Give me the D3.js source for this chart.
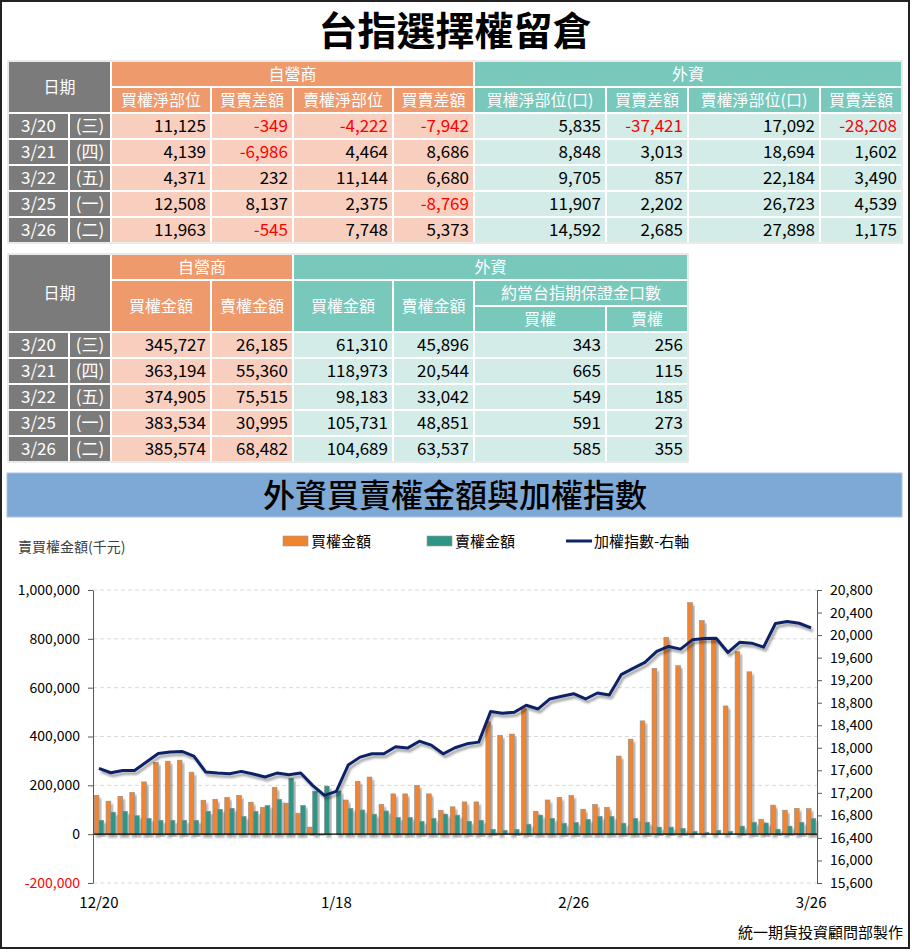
<!DOCTYPE html>
<html>
<head>
<meta charset="utf-8">
<script src="https://cdn.jsdelivr.net/npm/d3@7"></script>
<style>
  body { margin: 0; background: #fff; }
  text { font-family: "Noto Sans CJK TC", "Noto Sans", sans-serif; }
</style>
</head>
<body>
<div id="chart"></div>
<script>
const FRAME_WIDTH = 912;
const FRAME_HEIGHT = 952;

// ---- table data ----
const DATES = ["3/20", "3/21", "3/22", "3/25", "3/26"];
const WEEKDAYS = ["(三)", "(四)", "(五)", "(一)", "(二)"];

const DEALER_CALL_NET = [11125, 4139, 4371, 12508, 11963];
const DEALER_CALL_DIFF = [-349, -6986, 232, 8137, -545];
const DEALER_PUT_NET = [-4222, 4464, 11144, 2375, 7748];
const DEALER_PUT_DIFF = [-7942, 8686, 6680, -8769, 5373];
const FOREIGN_CALL_NET = [5835, 8848, 9705, 11907, 14592];
const FOREIGN_CALL_DIFF = [-37421, 3013, 857, 2202, 2685];
const FOREIGN_PUT_NET = [17092, 18694, 22184, 26723, 27898];
const FOREIGN_PUT_DIFF = [-28208, 1602, 3490, 4539, 1175];

const DEALER_CALL_AMT = [345727, 363194, 374905, 383534, 385574];
const DEALER_PUT_AMT = [26185, 55360, 75515, 30995, 68482];
const FOREIGN_CALL_AMT = [61310, 118973, 98183, 105731, 104689];
const FOREIGN_PUT_AMT = [45896, 20544, 33042, 48851, 63537];
const MARGIN_CALL = [343, 665, 549, 591, 585];
const MARGIN_PUT = [256, 115, 185, 273, 355];

// ---- chart data ----
const DAYS = ["12/20","12/21","12/22","12/25","12/26","12/27","12/28","12/29",
  "1/2","1/3","1/4","1/5","1/8","1/9","1/10","1/11","1/12","1/15","1/16","1/17","1/18","1/19",
  "1/22","1/23","1/24","1/25","1/26","1/29","1/30","1/31",
  "2/1","2/2","2/5","2/15","2/16","2/19","2/20","2/21","2/22","2/23","2/26","2/27","2/29",
  "3/1","3/4","3/5","3/6","3/7","3/8","3/11","3/12","3/13","3/14","3/15",
  "3/18","3/19","3/20","3/21","3/22","3/25","3/26"];
const BUY_AMT = [159000,135000,155000,171000,214000,294000,299000,303000,254000,139000,
  143000,151000,159000,131000,110000,192000,127000,86000,29000,-4000,
  0,140000,216000,234000,122000,165000,165000,200000,165000,98000,
  112000,132000,132000,460000,405000,410000,517000,94000,140000,151000,
  159000,102000,122000,110000,320000,389000,464000,679000,806000,690000,
  948000,875000,799000,525000,747000,665000,61310,118973,98183,105731,104689];
const SELL_AMT = [57000,90000,94000,76000,65000,57000,57000,57000,57000,94000,
  102000,106000,73000,94000,118000,143000,229000,118000,176000,197000,
  177000,106000,99000,82000,95000,69000,69000,53000,65000,82000,
  78000,53000,57000,20000,16000,20000,41000,78000,65000,45000,
  48000,61000,73000,73000,45000,65000,49000,29000,29000,24000,
  12000,8000,16000,12000,33000,49000,45896,20544,33042,48851,63537];
const TAIEX = [17634,17557,17598,17598,17746,17899,17923,17935,17852,17569,
  17551,17540,17581,17534,17481,17551,17522,17551,17333,17156,
  17227,17693,17834,17893,17893,18017,17994,18117,18047,17893,
  18000,18070,18100,18642,18613,18630,18754,18689,18866,18913,
  18960,18866,18972,18937,19297,19409,19515,19709,19798,19751,
  19916,19939,19945,19692,19874,19857,19786,20205,20240,20210,20128];

const LEFT_TICKS = [-200000, 0, 200000, 400000, 600000, 800000, 1000000];
const RIGHT_TICKS = [15600,16000,16400,16800,17200,17600,18000,18400,18800,19200,19600,20000,20400,20800];
const X_LABELS = ["12/20", "1/18", "2/26", "3/26"];

const C = {
  gray: "#7b7b7b", orangeHead: "#ee9a6c", orangeCell: "#f8cfbf",
  tealHead: "#78c8bc", tealCell: "#d4ece8", red: "#ff0000",
  buy: "#f08431", sell: "#2f9686", line: "#0f2466"
};

const svg = d3.select("#chart").append("svg")
  .attr("width", FRAME_WIDTH)
  .attr("height", FRAME_HEIGHT);

const defs = svg.append("defs");
defs.append("filter").attr("id", "shadow")
  .attr("x", "-50%").attr("y", "-20%").attr("width", "200%").attr("height", "140%")
  .append("feDropShadow")
    .attr("dx", 2).attr("dy", 3).attr("stdDeviation", 1.3)
    .attr("flood-color", "#000").attr("flood-opacity", 0.35);

// main title
svg.append("text")
  .attr("x", 455).attr("y", 45)
  .attr("text-anchor", "middle")
  .attr("font-size", "39px").attr("font-weight", "bold")
  .text("台指選擇權留倉");

// draws one table cell
function cell(g, x0, x1, y0, y1, fill, txt, color, align, size) {
  g.append("rect")
    .attr("x", x0).attr("y", y0)
    .attr("width", x1 - x0).attr("height", y1 - y0)
    .attr("fill", fill).attr("stroke", "#fff").attr("stroke-width", 2);
  if (txt === undefined) return;
  const t = g.append("text")
    .attr("y", (y0 + y1) / 2 + (size || 17) * 0.36)
    .attr("font-size", (size || 17) + "px")
    .attr("fill", color)
    .text(txt);
  if (align === "right") t.attr("x", x1 - 5).attr("text-anchor", "end");
  else t.attr("x", (x0 + x1) / 2).attr("text-anchor", "middle");
}

// plain hyphen for negatives, like the source sheet
const LOCALE = d3.formatLocale({decimal: ".", thousands: ",", grouping: [3], currency: ["", ""], minus: "-"});
const fmt = LOCALE.format(",");
const numColor = (v) => v < 0 ? C.red : "#000";

// ---- table 1 ----
const COLS = [8, 69, 111, 211, 293, 393, 474, 606, 688, 820, 902];
const T1 = svg.append("g");
const T1_TOP = 61, ROW_H = 26;
cell(T1, COLS[0], COLS[2], T1_TOP, T1_TOP + 2 * ROW_H, C.gray, "日期", "#fff", "center", 16);
cell(T1, COLS[2], COLS[6], T1_TOP, T1_TOP + ROW_H, C.orangeHead, "自營商", "#fff", "center", 16);
cell(T1, COLS[6], COLS[10], T1_TOP, T1_TOP + ROW_H, C.tealHead, "外資", "#fff", "center", 16);
const T1_HEADS = ["買權淨部位", "買賣差額", "賣權淨部位", "買賣差額",
  "買權淨部位(口)", "買賣差額", "賣權淨部位(口)", "買賣差額"];
const T1_SERIES = [DEALER_CALL_NET, DEALER_CALL_DIFF, DEALER_PUT_NET, DEALER_PUT_DIFF,
  FOREIGN_CALL_NET, FOREIGN_CALL_DIFF, FOREIGN_PUT_NET, FOREIGN_PUT_DIFF];
T1_HEADS.forEach((h, j) => {
  cell(T1, COLS[j + 2], COLS[j + 3], T1_TOP + ROW_H, T1_TOP + 2 * ROW_H,
    j < 4 ? C.orangeHead : C.tealHead, h, "#fff", "center", 16);
});
DATES.forEach((d, i) => {
  const y0 = T1_TOP + (i + 2) * ROW_H;
  cell(T1, COLS[0], COLS[1], y0, y0 + ROW_H, C.gray, d, "#fff", "center");
  cell(T1, COLS[1], COLS[2], y0, y0 + ROW_H, C.gray, WEEKDAYS[i], "#fff", "center");
  T1_SERIES.forEach((s, j) => {
    cell(T1, COLS[j + 2], COLS[j + 3], y0, y0 + ROW_H,
      j < 4 ? C.orangeCell : C.tealCell, fmt(s[i]), numColor(s[i]), "right");
  });
});
T1.append("rect").attr("x", COLS[0]).attr("y", T1_TOP)
  .attr("width", COLS[10] - COLS[0]).attr("height", 7 * ROW_H)
  .attr("fill", "none").attr("stroke", "#d6d6d6").attr("stroke-width", 1);

// ---- table 2 ----
const T2 = svg.append("g");
const T2_TOP = 254, T2_H = 26;
const T2_HEAD_END = T2_TOP + 3 * T2_H + 0;
cell(T2, COLS[0], COLS[2], T2_TOP, T2_HEAD_END, C.gray, "日期", "#fff", "center", 16);
cell(T2, COLS[2], COLS[4], T2_TOP, T2_TOP + T2_H, C.orangeHead, "自營商", "#fff", "center", 16);
cell(T2, COLS[4], COLS[8], T2_TOP, T2_TOP + T2_H, C.tealHead, "外資", "#fff", "center", 16);
cell(T2, COLS[2], COLS[3], T2_TOP + T2_H, T2_HEAD_END, C.orangeHead, "買權金額", "#fff", "center", 16);
cell(T2, COLS[3], COLS[4], T2_TOP + T2_H, T2_HEAD_END, C.orangeHead, "賣權金額", "#fff", "center", 16);
cell(T2, COLS[4], COLS[5], T2_TOP + T2_H, T2_HEAD_END, C.tealHead, "買權金額", "#fff", "center", 16);
cell(T2, COLS[5], COLS[6], T2_TOP + T2_H, T2_HEAD_END, C.tealHead, "賣權金額", "#fff", "center", 16);
cell(T2, COLS[6], COLS[8], T2_TOP + T2_H, T2_TOP + 2 * T2_H, C.tealHead, "約當台指期保證金口數", "#fff", "center", 16);
cell(T2, COLS[6], COLS[7], T2_TOP + 2 * T2_H, T2_HEAD_END, C.tealHead, "買權", "#fff", "center", 16);
cell(T2, COLS[7], COLS[8], T2_TOP + 2 * T2_H, T2_HEAD_END, C.tealHead, "賣權", "#fff", "center", 16);
const T2_SERIES = [DEALER_CALL_AMT, DEALER_PUT_AMT, FOREIGN_CALL_AMT, FOREIGN_PUT_AMT, MARGIN_CALL, MARGIN_PUT];
DATES.forEach((d, i) => {
  const y0 = T2_HEAD_END + i * T2_H;
  cell(T2, COLS[0], COLS[1], y0, y0 + T2_H, C.gray, d, "#fff", "center");
  cell(T2, COLS[1], COLS[2], y0, y0 + T2_H, C.gray, WEEKDAYS[i], "#fff", "center");
  T2_SERIES.forEach((s, j) => {
    cell(T2, COLS[j + 2], COLS[j + 3], y0, y0 + T2_H,
      j < 2 ? C.orangeCell : C.tealCell, fmt(s[i]), numColor(s[i]), "right");
  });
});
T2.append("rect").attr("x", COLS[0]).attr("y", T2_TOP)
  .attr("width", COLS[8] - COLS[0]).attr("height", 8 * T2_H)
  .attr("fill", "none").attr("stroke", "#d6d6d6").attr("stroke-width", 1);

// ---- chart title band ----
svg.append("rect")
  .attr("x", 7).attr("y", 473).attr("width", 895).attr("height", 44)
  .attr("fill", "#7ea8d5").attr("stroke", "#a9c4e4").attr("stroke-width", 1);
svg.append("text")
  .attr("x", 455).attr("y", 507)
  .attr("text-anchor", "middle").attr("font-size", "32px")
  .attr("font-weight", 500)
  .text("外資買賣權金額與加權指數");

// ---- combo chart ----
const PLOT = {left: 93, right: 817, top: 590, bottom: 883};

const X_SCALE = d3.scaleBand()
  .domain(DAYS)
  .range([PLOT.left, PLOT.right])
  .paddingInner(0.2)
  .paddingOuter(0.1);
const X_SUB = d3.scaleBand()
  .domain(["buy", "sell"])
  .range([0, X_SCALE.bandwidth()]);
const Y_LEFT = d3.scaleLinear()
  .domain([-200000, 1000000])
  .range([PLOT.bottom, PLOT.top]);
const Y_RIGHT = d3.scaleLinear()
  .domain([15600, 20800])
  .range([PLOT.bottom, PLOT.top]);

// gridlines
svg.append("g").selectAll("line")
  .data(LEFT_TICKS.filter((t) => t !== 0))
  .enter().append("line")
    .attr("x1", PLOT.left).attr("x2", PLOT.right)
    .attr("y1", (d) => Y_LEFT(d)).attr("y2", (d) => Y_LEFT(d))
    .attr("stroke", "#d9d9d9").attr("stroke-dasharray", "4,3");

// bars
const bars = svg.append("g");
const DAY_ROWS = DAYS.map((d, i) => ({day: d, buy: BUY_AMT[i], sell: SELL_AMT[i], idx: TAIEX[i]}));
["buy", "sell"].forEach((key) => {
  bars.selectAll("rect." + key)
    .data(DAY_ROWS)
    .enter().append("rect")
      .attr("class", key)
      .attr("x", (d) => X_SCALE(d.day) + X_SUB(key))
      .attr("y", (d) => Y_LEFT(Math.max(0, d[key])))
      .attr("width", X_SUB.bandwidth())
      .attr("height", (d) => Math.abs(Y_LEFT(d[key]) - Y_LEFT(0)))
      .attr("fill", key === "buy" ? C.buy : C.sell)
      .attr("stroke", "#8f8f8f").attr("stroke-width", 0.6)
      .attr("filter", "url(#shadow)");
});

// zero line
svg.append("line")
  .attr("x1", PLOT.left).attr("x2", PLOT.right)
  .attr("y1", Y_LEFT(0)).attr("y2", Y_LEFT(0))
  .attr("stroke", "#000").attr("stroke-width", 1.3);

// index line
const LINE = d3.line()
  .x((d) => X_SCALE(d.day) + X_SCALE.bandwidth() / 2)
  .y((d) => Y_RIGHT(d.idx));
svg.append("path")
  .datum(DAY_ROWS)
  .attr("d", LINE)
  .attr("fill", "none")
  .attr("stroke", C.line).attr("stroke-width", 3)
  .attr("stroke-linejoin", "round")
  .attr("filter", "url(#shadow)");

// left axis
const leftAxis = svg.append("g")
  .attr("transform", "translate(" + PLOT.left + ",0)")
  .call(d3.axisLeft(Y_LEFT).tickValues(LEFT_TICKS).tickFormat(fmt).tickSize(5).tickPadding(8).tickSizeOuter(0));
leftAxis.select(".domain").attr("stroke", "#595959");
leftAxis.selectAll(".tick line").attr("stroke", "#595959");
leftAxis.selectAll(".tick text")
  .attr("font-size", "14px")
  .attr("font-family", "'Noto Sans', sans-serif")
  .attr("fill", (d) => d < 0 ? C.red : "#000");

// right axis
const rightAxis = svg.append("g")
  .attr("transform", "translate(" + PLOT.right + ",0)")
  .call(d3.axisRight(Y_RIGHT).tickValues(RIGHT_TICKS).tickFormat(fmt).tickSize(5).tickPadding(8).tickSizeOuter(0));
rightAxis.select(".domain").attr("stroke", "#595959");
rightAxis.selectAll(".tick line").attr("stroke", "#595959");
rightAxis.selectAll(".tick text")
  .attr("font-size", "14px")
  .attr("font-family", "'Noto Sans', sans-serif")
  .attr("fill", "#000");

// bottom labels
const bottomAxis = svg.append("g")
  .attr("transform", "translate(0," + (PLOT.bottom + 6) + ")")
  .call(d3.axisBottom(X_SCALE).tickValues(X_LABELS).tickSize(0).tickPadding(8));
bottomAxis.select(".domain").remove();
bottomAxis.selectAll(".tick text")
  .attr("font-size", "15px")
  .attr("font-family", "'Noto Sans', sans-serif")
  .attr("fill", "#000");

// axis title
svg.append("text")
  .attr("x", 18).attr("y", 552)
  .attr("font-size", "14px").attr("fill", "#404040")
  .text("賣買權金額(千元)");

// legend
const LEGEND = [
  {label: "買權金額", color: C.buy, type: "box", x: 283},
  {label: "賣權金額", color: C.sell, type: "box", x: 427},
  {label: "加權指數-右軸", color: C.line, type: "line", x: 566}
];
const legend = svg.append("g");
LEGEND.forEach((l) => {
  if (l.type === "box") {
    legend.append("rect")
      .attr("x", l.x).attr("y", 536).attr("width", 25).attr("height", 10)
      .attr("fill", l.color).attr("stroke", "#999").attr("stroke-width", 0.6);
  } else {
    legend.append("line")
      .attr("x1", l.x).attr("x2", l.x + 26).attr("y1", 541).attr("y2", 541)
      .attr("stroke", l.color).attr("stroke-width", 3);
  }
  legend.append("text")
    .attr("x", l.x + 28).attr("y", 547)
    .attr("font-size", "15px").attr("fill", "#000")
    .text(l.label);
});

// footer
svg.append("text")
  .attr("x", 903).attr("y", 938)
  .attr("text-anchor", "end").attr("font-size", "15px")
  .text("統一期貨投資顧問部製作");

// outer frame
svg.append("rect")
  .attr("x", 1).attr("y", 1).attr("width", 908).attr("height", 947)
  .attr("fill", "none").attr("stroke", "#222").attr("stroke-width", 2);
</script>
</body>
</html>
